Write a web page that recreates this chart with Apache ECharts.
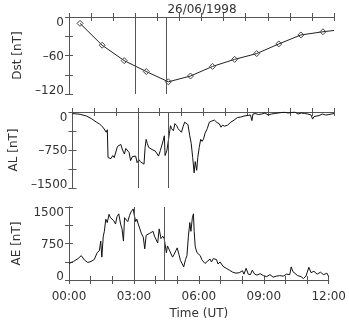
<!DOCTYPE html>
<html>
<head>
<meta charset="utf-8">
<script src="https://cdn.jsdelivr.net/npm/echarts@6/dist/echarts.min.js"></script>
<style>
html, body { margin: 0; padding: 0; background: #fff; }
#chart { width: 349px; height: 321px; }
</style>
</head>
<body>
<div id="chart"></div>
<script>
// time in minutes from 00:00 UT, 26/06/1998
// hourly Dst, plotted at mid-hour; last entry is the line end at 12:00 (no marker)
var dstMinutes = [30, 90, 150, 210, 270, 330, 390, 450, 510, 570, 630, 690, 720];
var dstValues = [-10, -44, -68, -85, -101, -92, -77, -66, -57, -42, -28, -23, -21];

var alMinutes = [0, 21, 39, 52, 66, 75, 84, 88, 93, 96, 98, 102, 106, 111, 115, 120, 124, 129, 133, 138,
    143, 147, 152, 156, 160, 165, 170, 174, 178, 183, 187, 192, 197, 200, 203, 206, 210, 215, 219, 224,
    228, 233, 237, 242, 246, 250, 253, 255, 260, 264, 267, 270, 273, 278, 282, 287, 291, 296, 300, 305,
    309, 314, 318, 323, 327, 331, 335, 338, 342, 345, 349, 353, 357, 361, 365, 371, 377, 383, 391, 398,
    404, 409, 413, 419, 427, 436, 445, 454, 463, 472, 481, 490, 494, 497, 503, 512, 521, 530, 539, 548,
    557, 566, 575, 584, 594, 603, 612, 621, 630, 639, 648, 657, 661, 665, 670, 679, 688, 697, 706, 720];
var alValues = [-30, -45, -80, -130, -200, -240, -300, -280, -400, -350, -900, -880, -920, -860, -900, -870, -680, -650, -640, -750,
    -830, -720, -730, -800, -960, -880, -910, -870, -1000, -940, -980, -950, -1030, -700, -540, -620, -700, -720, -740, -730,
    -770, -760, -870, -760, -730, -560, -470, -860, -760, -730, -420, -270, -330, -370, -230, -270, -330, -300, -400, -280,
    -200, -190, -250, -470, -620, -900, -1200, -980, -1150, -900, -700, -540, -580, -530, -420, -330, -200, -180, -160, -210,
    -230, -300, -260, -280, -260, -200, -160, -110, -100, -80, -70, -60, -170, -40, -30, -50, -40, -20, -60, -40,
    -30, -20, -10, -5, -20, -10, 0, -40, -20, -30, -40, -60, -140, -90, -60, -70, -40, -60, -50, -30];

var aeMinutes = [0, 12, 25, 34, 43, 52, 61, 70, 78, 84, 88, 91, 95, 98, 102, 106, 111, 115, 120, 124,
    129, 133, 138, 143, 147, 151, 154, 159, 163, 168, 172, 176, 178, 181, 185, 188, 192, 197, 201, 206,
    210, 214, 219, 224, 228, 233, 237, 242, 246, 250, 255, 260, 264, 270, 273, 278, 282, 287, 291, 296,
    300, 305, 309, 314, 318, 323, 327, 331, 335, 338, 342, 345, 347, 350, 355, 359, 364, 368, 373, 377,
    383, 391, 395, 400, 404, 409, 413, 419, 427, 436, 445, 454, 463, 472, 481, 485, 491, 497, 503, 508,
    515, 521, 530, 539, 548, 557, 566, 575, 584, 594, 603, 612, 616, 621, 625, 634, 643, 650, 657, 665,
    671, 679, 688, 697, 706, 715, 720];
var aeValues = [340, 380, 440, 500, 410, 360, 380, 420, 560, 600, 800, 470, 900, 1000, 1250, 1180, 1350, 1280, 1240, 1220,
    1150, 1300, 1360, 1150, 1050, 800, 1280, 1310, 1200, 1330, 1400, 1380, 1460, 1330, 1200, 1250, 1150, 1120, 950, 880,
    640, 920, 900, 960, 940, 1000, 900, 930, 760, 1050, 850, 900, 850, 560, 700, 620, 580, 470, 520, 600,
    660, 520, 400, 330, 270, 420, 500, 900, 1180, 1000, 1280, 1360, 1000, 680, 560, 600, 500, 420, 440, 340,
    380, 430, 370, 440, 480, 420, 330, 370, 280, 240, 200, 160, 140, 150, 190, 120, 240, 120, 110, 200,
    120, 100, 130, 90, 70, 110, 60, 80, 90, 80, 120, 110, 270, 170, 140, 90, 70, 30, 80, 260,
    150, 180, 120, 160, 110, 140, 70];

var markMinutes = [180, 265];
var dateLabel = '26/06/1998';

function pairs(xs, ys) {
    return xs.map(function (x, i) { return [x, ys[i]]; });
}

var font = 'DejaVu Sans';
var lineColor = '#555';
var textColor = '#333';

function timeLabel(v) {
    if (v % 180 !== 0) return '';
    var h = v / 60;
    return (h < 10 ? '0' : '') + h + ':00';
}

function xAxes(grid, withLabels) {
    var base = {
        gridIndex: grid, type: 'value', min: 0, max: 720, interval: 60,
        axisLine: { lineStyle: { color: lineColor, width: 1 } },
        axisTick: { inside: true, length: 4, lineStyle: { color: lineColor } },
        splitLine: { show: false }
    };
    var bottom = Object.assign({}, base, {
        position: 'bottom',
        axisLabel: {
            show: withLabels, fontFamily: font, fontSize: 12, color: textColor, margin: 11,
            formatter: timeLabel
        }
    });
    if (withLabels) {
        bottom.name = 'Time (UT)';
        bottom.nameLocation = 'middle';
        bottom.nameGap = 28;
        bottom.nameTextStyle = { fontFamily: font, fontSize: 12, color: textColor };
    }
    var top = Object.assign({}, base, { position: 'top', axisLabel: { show: false } });
    return [bottom, top];
}

function yAxes(grid, min, max, step, name) {
    var base = {
        gridIndex: grid, type: 'value', min: min, max: max, interval: step,
        axisLine: { lineStyle: { color: lineColor, width: 1 } },
        axisTick: { inside: true, length: 4, lineStyle: { color: lineColor } },
        splitLine: { show: false }
    };
    var left = Object.assign({}, base, {
        position: 'left',
        name: name, nameLocation: 'middle', nameGap: 42, nameRotate: 90,
        nameTextStyle: { fontFamily: font, fontSize: 12, color: textColor },
        axisLabel: {
            fontFamily: font, fontSize: 12, color: textColor, margin: 5,
            formatter: function (v) {
                if (v % (step * 2) !== 0) return '';
                var s = String(Math.abs(v));
                if (v < 0) s = '\u2013' + s;
                if (v === max) return '{top|' + s + '}';
                if (v === min) return '{bot|' + s + '}';
                return '{mid|' + s + '}';
            },
            rich: {
                top: { fontFamily: font, fontSize: 12, color: textColor, padding: [11, 0, 0, 0] },
                mid: { fontFamily: font, fontSize: 12, color: textColor, padding: [2, 0, 0, 0] },
                bot: { fontFamily: font, fontSize: 12, color: textColor, padding: [0, 0, 7, 0] }
            }
        }
    });
    var right = Object.assign({}, base, { position: 'right', axisLabel: { show: false } });
    return [left, right];
}

var grids = [
    { left: 69, top: 17, width: 265, height: 77 },
    { left: 69, top: 112, width: 265, height: 76 },
    { left: 69, top: 207, width: 265, height: 77 }
];

var xs = [].concat(xAxes(0, false), xAxes(1, false), xAxes(2, true));
var ys = [].concat(yAxes(0, -120, 0, 30, 'Dst [nT]'), yAxes(1, -1500, 0, 375, 'AL [nT]'), yAxes(2, 0, 1500, 375, 'AE [nT]'));

var marks = {
    silent: true, symbol: 'none', label: { show: false },
    lineStyle: { color: '#555', width: 1, type: 'solid' },
    data: markMinutes.map(function (m) { return { xAxis: m }; })
};

// the closing point at 12:00 only extends the line
var dstData = pairs(dstMinutes, dstValues).map(function (p, i) {
    return i === dstMinutes.length - 1 ? { value: p, symbol: 'none' } : { value: p };
});

var option = {
    animation: false,
    backgroundColor: '#fff',
    graphic: [{
        type: 'text', x: 202, y: 10,
        style: { text: dateLabel, fontFamily: font, fontSize: 12, fill: textColor, textAlign: 'center', textVerticalAlign: 'middle' }
    }],
    grid: grids,
    xAxis: xs,
    yAxis: ys,
    series: [
        {
            type: 'line', xAxisIndex: 0, yAxisIndex: 0,
            data: dstData,
            symbol: 'diamond', symbolSize: 6, showAllSymbol: true,
            lineStyle: { color: '#222', width: 1 },
            itemStyle: { color: 'rgba(255,255,255,0)', borderColor: '#444', borderWidth: 1 },
            markLine: marks
        },
        {
            type: 'line', xAxisIndex: 2, yAxisIndex: 2,
            data: pairs(alMinutes, alValues),
            symbol: 'none',
            lineStyle: { color: '#111', width: 1 },
            markLine: marks
        },
        {
            type: 'line', xAxisIndex: 4, yAxisIndex: 4,
            data: pairs(aeMinutes, aeValues),
            symbol: 'none',
            lineStyle: { color: '#111', width: 1 },
            markLine: marks
        }
    ]
};

var chart = echarts.init(document.getElementById('chart'));
chart.setOption(option);
</script>
</body>
</html>
